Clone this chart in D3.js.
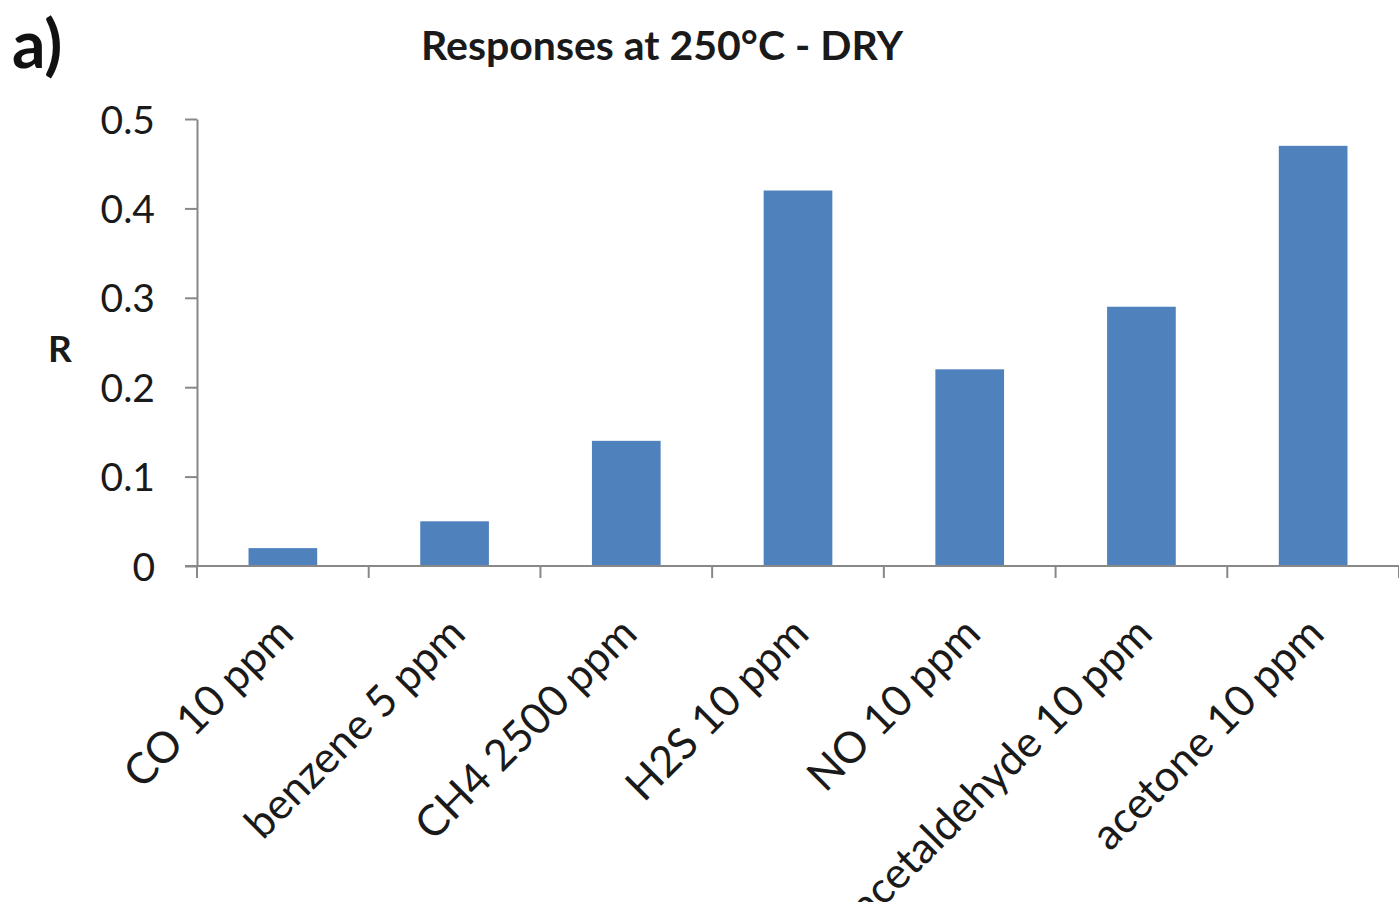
<!DOCTYPE html>
<html>
<head>
<meta charset="utf-8">
<script src="https://cdn.jsdelivr.net/npm/d3@7"></script>
<style>
  html, body { margin: 0; padding: 0; background: #ffffff; }
  svg { display: block; }
</style>
</head>
<body>
<script>
// ---- data ----
const categories = ["CO 10 ppm", "benzene 5 ppm", "CH4 2500 ppm", "H2S 10 ppm", "NO 10 ppm", "acetaldehyde 10 ppm", "acetone 10 ppm"];
const values = [0.02, 0.05, 0.14, 0.42, 0.22, 0.29, 0.47];
const yTicks = [0, 0.1, 0.2, 0.3, 0.4, 0.5];
const yTickLabels = ["0", "0.1", "0.2", "0.3", "0.4", "0.5"];
const titleText = "Responses at 250°C - DRY";
const yAxisLabel = "R";
const panelLabel = "a)";

// ---- layout ----
const W = 1399, H = 902;
const plot = { left: 197, right: 1399, top: 119, bottom: 566 };
const barColor = "#4f81bd";
const axisColor = "#888888";
const textColor = "#1a1a1a";
const font = "Lato, 'Open Sans', sans-serif";

const svg = d3.select("body").append("svg").attr("width", W).attr("height", H);

const x = d3.scaleBand().domain(categories).range([plot.left, plot.right])
  .paddingInner(0.6).paddingOuter(0.3);
const y = d3.scaleLinear().domain([0, 0.5]).range([plot.bottom, plot.top]);

// bars
svg.append("g").selectAll("rect").data(values).join("rect")
  .attr("x", (d, i) => x(categories[i]))
  .attr("y", d => y(d))
  .attr("width", x.bandwidth())
  .attr("height", d => y(0) - y(d))
  .attr("fill", barColor);

// y axis
const yAxis = d3.axisLeft(y).tickValues(yTicks)
  .tickFormat((d, i) => yTickLabels[i]).tickSizeOuter(0).tickSizeInner(12).tickPadding(30);
const gy = svg.append("g").attr("transform", `translate(${plot.left},0)`).call(yAxis);
gy.select(".domain").attr("stroke", axisColor).attr("stroke-width", 2);
gy.selectAll(".tick line").attr("stroke", axisColor).attr("stroke-width", 2);
gy.selectAll(".tick text").attr("fill", textColor).style("font-family", font)
  .style("font-size", "39px").attr("dy", "0.36em");

// x axis (labels at centres, ticks at boundaries)
const xAxis = d3.axisBottom(x).tickSize(0).tickSizeOuter(0);
const gx = svg.append("g").attr("transform", `translate(0,${plot.bottom})`).call(xAxis);
gx.select(".domain").attr("stroke", axisColor).attr("stroke-width", 2)
  .attr("d", `M${plot.left - 12},0H${plot.right}`);
gx.selectAll(".tick text")
  .attr("fill", textColor).style("font-family", font).style("font-size", "43px")
  .attr("text-anchor", "end").attr("y", 0).attr("dy", 0)
  .attr("transform", "translate(13,70) rotate(-45)");

const step = x.step();
const gap = step - x.bandwidth();
const boundaries = categories.map(c => x(c) - gap / 2).concat([x(categories[categories.length - 1]) + x.bandwidth() + gap / 2]);
gx.append("g").selectAll("line").data(boundaries).join("line")
  .attr("x1", d => d).attr("x2", d => d).attr("y1", 0).attr("y2", 12)
  .attr("stroke", axisColor).attr("stroke-width", 2);

// title
svg.append("text").attr("x", 662).attr("y", 60).attr("text-anchor", "middle")
  .attr("fill", textColor).style("font-family", font).style("font-weight", "bold")
  .style("font-size", "41px").text(titleText);

// y label
svg.append("text").attr("x", 60).attr("y", 362).attr("text-anchor", "middle")
  .attr("fill", textColor).style("font-family", font).style("font-weight", "bold")
  .style("font-size", "37px").text(yAxisLabel);

// panel label
svg.append("text").attr("x", 12).attr("y", 68)
  .attr("fill", "#111").style("font-family", font).style("font-weight", "bold")
  .style("font-size", "66px").text(panelLabel);
</script>
</body>
</html>
